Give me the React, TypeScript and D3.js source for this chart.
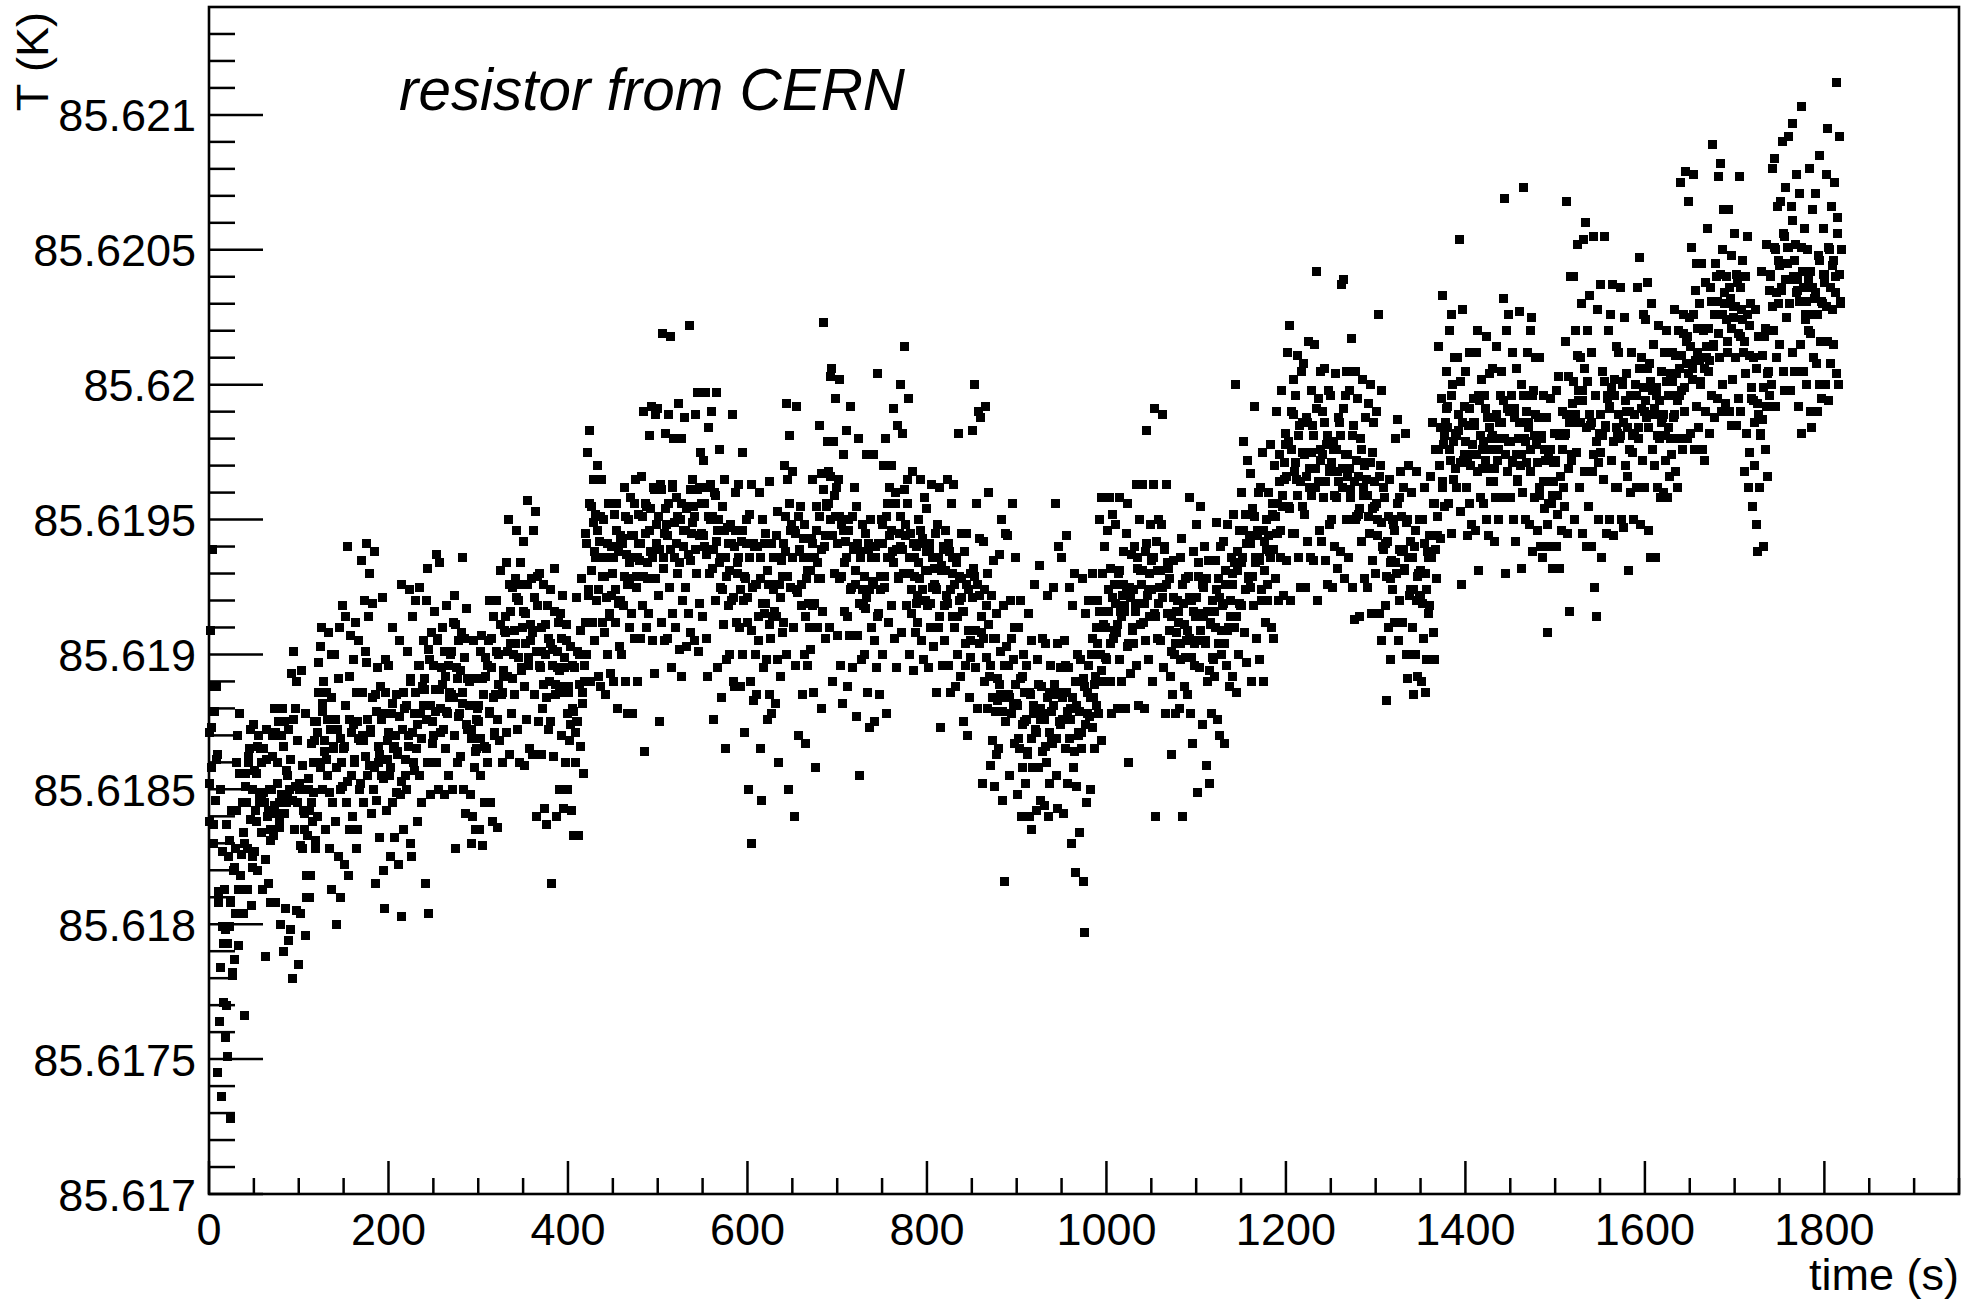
import React from 'react';
import * as d3 from 'd3';

// Temperature readings stored as offsets above T_BASE in units of T_UNIT (10 µK).
// Primary readings: one every SAMPLE_INTERVAL seconds from t = 0 s.
// Interleaved readings: one every INTERLEAVE_INTERVAL seconds from t = INTERLEAVE_START s.
const T_BASE = 85.617;
const T_UNIT = 1e-5;
const SAMPLE_INTERVAL = 1;
const INTERLEAVE_INTERVAL = 2;
const INTERLEAVE_START = 0.5;

// primary readings, 0 – 300 s
const tempsA = [
171,138,209,158,239,130,179,146,188,163,
45,108,64,150,36,99,93,113,58,70,
137,51,125,99,28,142,81,120,87,104,
128,160,170,92,178,118,113,145,134,66,
130,156,145,113,160,165,172,107,125,150,
174,127,142,156,120,170,145,165,148,160,
113,165,145,88,172,140,115,150,135,108,
150,170,133,180,108,141,160,175,145,136,
100,170,180,90,175,106,145,155,148,94,
150,98,193,80,201,135,180,105,190,145,
85,150,104,194,128,142,135,178,96,110,
133,150,110,118,145,138,160,175,168,128,
175,140,197,160,203,210,182,150,190,168,
135,186,155,208,128,172,113,200,145,165,
200,138,100,172,125,210,150,110,160,218,
165,122,214,145,240,118,176,135,207,155,
140,198,160,212,128,175,135,205,150,168,
235,170,145,220,162,241,197,155,214,230,
172,141,219,150,238,115,185,146,195,160,
132,188,155,221,120,178,106,198,142,168,
196,155,125,178,145,210,165,132,170,185,
163,122,205,148,226,103,172,135,180,155,
150,201,170,224,130,190,125,214,160,178,
220,165,138,196,155,225,178,145,188,205,
187,115,220,160,232,104,198,148,208,175,
170,216,187,237,160,205,150,234,180,195,
210,172,148,192,165,218,178,155,186,200,
185,150,212,170,222,128,195,160,205,178,
162,208,182,236,150,199,141,217,172,191,
190,148,130,172,140,205,158,135,165,180,
];

// primary readings, 300 – 600 s
const tempsB = [
175,135,201,155,207,129,185,145,192,165,
160,205,178,220,145,195,138,214,170,185,
220,176,136,200,168,231,185,160,192,209,
208,171,234,192,250,163,216,178,225,200,
185,228,204,246,172,220,160,234,195,210,
242,188,159,215,176,257,196,165,205,228,
208,163,246,185,253,140,218,175,230,195,
163,210,180,226,143,200,137,218,172,190,
224,175,115,202,162,232,185,140,195,212,
188,150,215,170,222,143,195,160,205,178,
150,188,168,203,142,180,133,195,160,175,
221,175,133,200,166,228,182,156,190,212,
245,200,275,222,283,190,255,212,265,238,
205,252,220,270,192,242,188,265,212,236,
250,208,185,236,200,256,215,193,222,240,
230,190,252,212,256,180,238,203,244,220,
200,243,218,262,190,237,178,250,210,228,
258,215,178,244,206,265,225,190,236,252,
235,206,266,218,290,164,245,210,255,228,
215,281,238,292,205,262,193,289,228,248,
291,222,175,263,212,319,232,205,245,282,
248,206,289,225,318,195,262,215,280,236,
210,258,230,293,202,250,192,280,220,240,
288,225,203,255,215,322,235,208,245,265,
255,205,289,230,297,201,262,219,275,245,
214,272,240,297,206,262,192,284,230,250,
290,232,176,260,220,297,242,195,250,276,
225,184,255,211,265,165,236,198,247,218,
200,248,220,289,190,240,188,260,212,230,
263,210,188,242,200,275,220,171,228,250,
];

// primary readings, 600 – 900 s
const tempsC = [
212,150,252,190,263,130,225,183,240,200,
185,240,205,260,165,228,146,250,195,215,
245,198,176,226,185,264,206,178,214,236,
216,182,244,198,253,160,226,192,235,208,
212,270,238,293,200,265,150,281,225,248,
268,210,140,245,196,292,223,170,238,255,
218,185,243,200,248,167,228,196,236,210,
202,243,218,265,186,236,158,255,210,228,
285,228,180,267,216,323,240,206,255,279,
268,210,303,250,306,190,279,230,295,262,
207,265,228,302,196,248,182,274,216,242,
283,214,188,250,207,292,225,195,240,262,
226,177,255,207,280,155,238,198,248,218,
200,245,217,274,186,239,173,250,210,227,
274,205,175,240,195,304,215,185,224,250,
248,200,270,225,280,178,256,212,262,236,
218,270,238,291,206,260,195,285,228,245,
300,240,208,282,230,314,248,218,265,295,
230,200,245,215,268,194,236,208,240,222,
212,250,228,265,205,243,198,258,220,238,
254,218,195,238,210,263,225,203,232,245,
225,186,248,210,262,173,233,196,240,218,
205,246,222,265,196,238,186,256,214,230,
263,210,188,236,200,282,220,192,228,245,
216,175,238,196,245,170,224,184,230,205,
209,283,232,300,195,256,180,290,222,243,
288,208,152,242,190,292,218,180,230,260,
192,159,222,168,235,151,206,163,215,183,
165,237,185,250,146,218,116,245,175,203,
244,185,155,220,178,256,198,167,210,236,
];

// primary readings, 900 – 1200 s
const tempsD = [
182,148,210,165,220,140,192,158,200,175,
152,196,163,215,140,185,135,205,158,178,
226,172,142,198,158,233,180,146,188,206,
178,144,204,160,222,140,186,152,196,168,
167,225,185,256,155,204,143,240,175,195,
236,176,141,205,165,244,186,152,195,225,
180,130,218,158,230,119,190,151,200,170,
134,198,165,228,116,188,97,215,145,178,
220,177,150,200,173,230,184,165,192,210,
220,178,250,200,258,168,230,190,240,210,
198,246,216,258,190,232,178,252,206,226,
248,208,180,230,198,258,216,190,222,238,
218,180,245,203,256,160,225,193,237,210,
204,240,218,263,196,232,181,250,211,226,
263,212,180,238,205,283,222,198,230,248,
235,190,263,215,291,140,242,206,250,225,
205,248,225,289,195,240,178,263,215,232,
228,192,163,214,185,235,200,178,208,220,
212,180,236,198,243,140,219,188,228,205,
185,229,206,258,178,220,167,238,196,214,
248,205,149,234,195,255,215,174,225,240,
205,159,228,190,235,152,212,178,220,198,
192,235,210,249,176,228,170,240,200,218,
242,204,167,226,196,248,210,188,220,236,
230,192,252,210,300,186,238,200,246,218,
218,260,236,279,208,252,197,272,228,244,
267,225,190,254,218,292,236,206,244,260,
235,198,262,220,275,190,242,212,250,226,
220,260,238,278,210,252,206,270,228,245,
290,245,220,274,236,298,255,222,265,282,
];

// primary readings, 1200 – 1500 s
const tempsE = [
278,235,312,255,322,220,290,245,302,268,
245,296,265,311,236,285,225,305,255,275,
308,252,225,288,242,316,262,236,275,298,
285,235,315,262,342,220,295,246,305,272,
242,290,258,306,235,278,226,298,248,268,
296,250,225,276,240,304,258,232,268,288,
286,238,337,262,339,228,296,250,305,274,
236,298,258,317,225,285,213,305,250,272,
295,252,214,280,242,302,262,228,270,288,
265,225,293,245,300,215,275,235,286,255,
230,290,250,326,215,270,205,298,240,262,
258,218,183,242,210,265,228,198,235,250,
248,212,280,230,287,205,258,220,268,238,
212,262,232,282,200,250,191,270,222,242,
260,210,185,240,200,268,220,192,230,250,
222,190,250,206,262,186,230,198,238,215,
218,266,236,286,208,256,198,276,228,244,
314,270,243,295,262,333,278,255,286,305,
292,256,320,272,326,245,300,265,310,282,
262,310,283,354,253,301,226,328,272,292,
305,262,244,285,256,312,270,248,278,295,
285,246,312,268,320,231,294,258,302,276,
256,296,272,318,250,288,244,304,264,280,
306,264,242,288,258,314,272,250,280,296,
305,258,332,280,369,230,320,268,326,290,
258,296,272,312,250,288,242,306,265,280,
327,270,232,300,260,373,280,250,290,312,
286,248,320,268,325,238,298,258,310,278,
246,288,262,310,240,280,236,296,254,272,
288,248,208,274,240,295,256,232,264,282,
];

// primary readings, 1500 – 1820 s
const tempsF = [
272,240,298,252,303,232,282,246,290,262,
255,316,282,368,245,303,216,340,272,293,
340,286,250,320,275,352,298,262,310,330,
298,245,354,268,360,240,320,255,333,285,
240,312,268,355,225,296,214,328,250,282,
337,275,236,305,265,355,285,245,295,320,
292,250,326,272,337,244,302,262,314,282,
262,312,280,336,250,300,247,325,270,290,
304,266,231,290,260,312,275,250,282,296,
300,262,336,280,347,248,310,272,326,290,
262,324,288,338,246,308,236,330,276,298,
315,270,236,296,262,322,280,258,288,305,
288,260,312,272,320,258,296,266,304,280,
274,312,288,328,268,304,262,320,280,296,
375,298,276,326,290,379,308,280,318,368,
325,282,351,302,378,276,335,292,345,312,
284,330,300,345,276,320,272,338,290,310,
358,305,282,336,296,389,315,288,326,345,
340,295,377,310,382,290,350,300,365,330,
293,340,312,365,290,332,285,348,302,325,
356,310,285,338,295,377,318,290,328,346,
312,268,340,282,355,262,322,275,330,295,
255,310,270,328,248,293,238,318,262,282,
342,287,240,318,276,352,292,266,305,335,
340,300,380,320,384,292,350,310,366,330,
315,368,335,390,305,355,298,373,325,345,
392,330,298,366,312,397,340,305,352,378,
335,292,371,315,403,282,342,305,358,326,
300,350,320,380,290,342,284,365,310,332,
371,308,290,348,300,385,316,295,330,358,
338,300,378,316,395,294,350,308,366,328,
315,375,340,412,304,362,300,392,330,350,
];

// interleaved readings, 0 – 300 s
const interA = [
152,173,137,188,161, 112,84,127,71,98, 93,131,108,82,121, 142,113,156,126,104,
151,128,162,139,121, 157,138,166,148,134, 149,124,161,142,131, 162,144,171,152,139,
148,166,141,157,172, 161,146,176,151,168, 152,129,159,141,118, 154,142,167,149,131,
171,186,158,179,164, 161,176,149,184,166, 176,158,191,169,151, 166,181,153,192,171,
174,161,186,169,152, 186,168,201,176,159, 171,184,158,179,166, 163,176,154,186,161,
171,158,182,166,149, 164,177,153,186,161, 181,166,191,171,157, 186,174,196,169,181,
191,176,202,181,167, 196,179,206,187,171, 189,201,179,196,184, 201,184,211,191,177,
194,186,206,174,191, 181,169,191,164,176,
];

// interleaved readings, 300 – 600 s
const interB = [
181,169,191,166,199, 196,179,206,184,171, 201,189,211,186,194, 214,201,226,204,191,
209,221,199,226,194, 216,204,226,199,211, 209,221,201,229,196, 201,189,211,184,206,
204,196,216,189,201, 194,206,186,199,211, 186,174,196,179,171, 201,189,209,186,196,
241,224,256,231,249, 236,246,224,251,229, 229,221,241,214,236, 236,224,246,219,241,
241,229,251,226,234, 244,236,256,229,241, 241,251,229,256,234, 246,254,236,261,241,
251,239,261,236,254, 244,256,239,263,249, 241,251,234,256,246, 246,254,237,261,249,
251,239,261,244,256, 244,256,237,251,263, 251,239,259,246,234, 236,224,246,229,241,
231,241,221,246,234, 236,224,246,229,241,
];

// interleaved readings, 600 – 900 s
const interC = [
221,236,209,241,226, 226,214,236,219,241, 219,231,211,241,224, 226,214,236,221,229,
241,251,229,256,246, 236,246,224,251,239, 226,236,214,231,219, 231,241,219,246,234,
251,239,261,244,256, 256,266,244,259,251, 241,251,229,246,234, 236,246,224,251,239,
231,241,219,236,224, 229,221,241,224,236, 226,236,214,241,229, 241,229,251,236,244,
246,234,256,239,229, 251,239,261,244,256, 236,224,241,229,219, 234,246,224,241,231,
231,241,219,236,226, 224,236,214,231,239, 231,219,241,224,236, 226,234,214,229,221,
216,204,226,209,199, 221,229,209,226,204, 214,206,224,199,211, 196,184,206,179,191,
189,201,179,196,184, 196,184,206,181,189,
];

// interleaved readings, 900 – 1200 s
const interD = [
181,169,191,174,186, 176,164,186,169,181, 179,171,189,176,164, 176,166,184,171,179,
181,189,169,186,174, 184,176,196,179,169, 176,184,164,181,171, 179,171,191,174,186,
196,184,206,189,181, 204,216,194,211,199, 216,224,204,221,209, 219,211,231,214,226,
216,224,204,221,209, 224,216,236,219,231, 231,219,241,224,214, 224,236,214,231,219,
231,221,239,226,234, 209,201,221,204,216, 216,204,226,211,199, 209,221,199,216,204,
221,229,209,226,214, 204,216,194,211,199, 216,224,204,221,209, 219,231,209,226,214,
226,234,214,231,219, 234,246,224,241,229, 241,229,251,234,246, 236,224,246,231,239,
244,236,256,239,251, 256,264,246,259,271,
];

// interleaved readings, 1200 – 1500 s
const interE = [
266,279,254,276,289, 271,259,281,264,286, 274,266,286,269,259, 281,269,291,264,276,
274,286,264,281,269, 271,279,259,276,264, 281,269,291,274,266, 269,261,281,264,251,
266,254,276,259,271, 259,251,271,254,264, 256,244,266,249,239, 241,229,251,234,224,
246,234,256,239,251, 239,231,249,236,224, 236,224,246,229,221, 231,219,241,224,236,
244,236,256,239,251, 276,284,264,281,291, 284,276,296,279,269, 281,289,271,286,274,
279,271,291,274,286, 286,274,296,281,269, 279,291,269,284,276, 281,269,289,276,286,
286,294,274,291,279, 279,271,291,274,264, 286,274,296,279,271, 284,276,296,281,289,
271,259,281,264,276, 264,256,276,259,271,
];

// interleaved readings, 1500 – 1820 s
const interF = [
271,259,281,266,276, 281,289,269,286,274, 301,289,311,294,286, 294,306,284,301,289,
286,274,296,279,271, 289,281,301,284,296, 291,299,279,296,284, 289,281,301,286,294,
284,276,296,281,289, 296,284,306,291,299, 294,306,284,301,289, 291,299,281,294,286,
289,281,301,284,296, 301,289,311,294,306, 311,319,299,316,304, 314,306,326,309,321,
309,301,321,306,314, 321,309,331,314,326, 331,319,341,326,334, 324,316,336,321,329,
329,341,319,336,324, 316,304,326,311,299, 294,286,306,289,281, 311,299,321,304,296,
341,329,351,334,346, 344,336,356,339,351, 351,339,361,346,334, 339,331,351,336,324,
331,339,319,336,326, 334,326,346,331,341, 341,329,351,336,344, 346,334,356,341,331,
];

const xMajorTicks = [0, 200, 400, 600, 800, 1000, 1200, 1400, 1600, 1800];
const yMajorTicks = [85.617, 85.6175, 85.618, 85.6185, 85.619, 85.6195, 85.62, 85.6205, 85.621];
const yTickLabels = ['85.617', '85.6175', '85.618', '85.6185', '85.619', '85.6195', '85.62', '85.6205', '85.621'];

const primary = [...tempsA, ...tempsB, ...tempsC, ...tempsD, ...tempsE, ...tempsF];
const interleaved = [...interA, ...interB, ...interC, ...interD, ...interE, ...interF];
const points = [
  ...primary.map((v, k) => ({ t: k * SAMPLE_INTERVAL, T: T_BASE + v * T_UNIT })),
  ...interleaved.map((v, k) => ({ t: INTERLEAVE_START + k * INTERLEAVE_INTERVAL, T: T_BASE + v * T_UNIT })),
];

export default function App() {
  const W = 1981;
  const H = 1301;
  const left = 209;
  const right = 1959;
  const top = 7;
  const bottom = 1194;

  const x = d3.scaleLinear().domain([0, 1950]).range([left, right]);
  const y = d3.scaleLinear().domain([85.617, 85.6214]).range([bottom, top]);

  const xMinor = d3.range(0, 1951, 50).filter((v) => v % 200 !== 0);
  const yMinor = d3.range(0, 44).filter((i) => i % 5 !== 0).map((i) => 85.617 + i * 0.0001);

  const font = '"Liberation Sans", Arial, Helvetica, sans-serif';
  const ms = 9;

  return (
    <svg
      width={W}
      height={H}
      style={{ position: 'absolute', left: 0, top: 0, background: '#fff' }}
      fontFamily={font}
    >
      <rect x={0} y={0} width={W} height={H} fill="#fff" />
      <g shapeRendering="crispEdges">
        {points.map((p, i) => (
          <rect key={i} x={x(p.t) - ms / 2} y={y(p.T) - ms / 2} width={ms} height={ms} fill="#000" />
        ))}
      </g>
      <rect x={left} y={top} width={right - left} height={bottom - top} fill="none" stroke="#000" strokeWidth={2.6} />
      {yMajorTicks.map((v, i) => (
        <g key={'ym' + i}>
          <line x1={left} x2={left + 54} y1={y(v)} y2={y(v)} stroke="#000" strokeWidth={2.5} />
          <text x={196} y={y(v) + 16.5} fontSize={45} textAnchor="end" fill="#000">
            {yTickLabels[i]}
          </text>
        </g>
      ))}
      {yMinor.map((v, i) => (
        <line key={'yn' + i} x1={left} x2={left + 26} y1={y(v)} y2={y(v)} stroke="#000" strokeWidth={2.5} />
      ))}
      {xMajorTicks.map((v, i) => (
        <g key={'xm' + i}>
          <line x1={x(v)} x2={x(v)} y1={bottom} y2={bottom - 33} stroke="#000" strokeWidth={2.5} />
          <text x={x(v)} y={1245} fontSize={45} textAnchor="middle" fill="#000">
            {String(v)}
          </text>
        </g>
      ))}
      {xMinor.map((v, i) => (
        <line key={'xn' + i} x1={x(v)} x2={x(v)} y1={bottom} y2={bottom - 16} stroke="#000" strokeWidth={2.5} />
      ))}
      <text x={right} y={1290} fontSize={45} textAnchor="end" fill="#000">
        time (s)
      </text>
      <text transform="translate(48,12) rotate(-90)" fontSize={45} textAnchor="end" fill="#000">
        T (K)
      </text>
      <text x={399} y={110} fontSize={60} fontStyle="italic" textLength={506} lengthAdjust="spacingAndGlyphs" fill="#000">
        resistor from CERN
      </text>
    </svg>
  );
}
